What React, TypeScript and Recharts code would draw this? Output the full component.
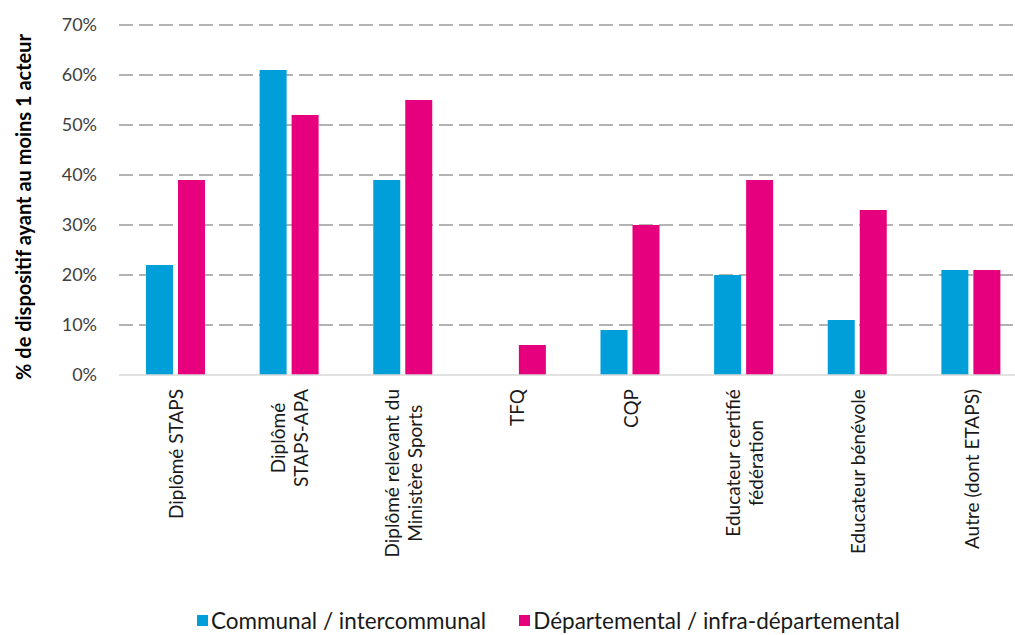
import { BarChart, Bar, XAxis, YAxis, CartesianGrid } from "recharts";

const CATEGORIES = [
  "Diplômé STAPS",
  "Diplômé\nSTAPS-APA",
  "Diplômé relevant du\nMinistère Sports",
  "TFQ",
  "CQP",
  "Educateur certifié\nfédération",
  "Educateur bénévole",
  "Autre (dont ETAPS)",
];
const COMMUNAL = [22, 61, 39, 0, 9, 20, 11, 21];
const DEPARTEMENTAL = [39, 52, 55, 6, 30, 39, 33, 21];
const Y_TICKS = [0, 10, 20, 30, 40, 50, 60, 70];

const SERIES = [
  { key: "communal", name: "Communal / intercommunal", color: "#009FDA" },
  { key: "departemental", name: "Départemental / infra-départemental", color: "#E6007E" },
];

const FONT = "Lato, 'Open Sans', sans-serif";
const X_FONT_SIZE = 19;

const data = CATEGORIES.map((name, i) => ({
  name,
  communal: COMMUNAL[i],
  departemental: DEPARTEMENTAL[i],
}));

let ctx: CanvasRenderingContext2D | null = null;
function textWidth(s: string, font: string) {
  if (!ctx) ctx = document.createElement("canvas").getContext("2d");
  if (!ctx) return s.length * 8;
  ctx.font = font;
  return ctx.measureText(s).width;
}

function XTick({ x, y, payload }: any) {
  const lines: string[] = String(payload.value).split("\n");
  const font = `${X_FONT_SIZE}px ${FONT}`;
  const maxW = Math.max(...lines.map((l) => textWidth(l, font)));
  const lh = 23;
  return (
    <g transform={`translate(${x},${y + 6}) rotate(-90)`}>
      {lines.map((l, i) => (
        <text
          key={i}
          x={-maxW / 2}
          y={(i - (lines.length - 1) / 2) * lh}
          textAnchor="middle"
          dominantBaseline="central"
          fontFamily={FONT}
          fontSize={X_FONT_SIZE}
          fill="#1a1a1a"
        >
          {l}
        </text>
      ))}
    </g>
  );
}

function YTitle({ viewBox }: any) {
  const cx = viewBox.x + 23;
  const cy = viewBox.y + viewBox.height / 2 + 7;
  return (
    <text
      x={cx}
      y={cy}
      transform={`rotate(-90, ${cx}, ${cy})`}
      textAnchor="middle"
      dominantBaseline="central"
      fontFamily={FONT}
      fontWeight="bold"
      fontSize={20}
      fill="#000"
    >
      % de dispositif ayant au moins 1 acteur
    </text>
  );
}

function LegendContent() {
  return (
    <div style={{ display: "flex", alignItems: "center", fontFamily: FONT, fontSize: 22.5, color: "#1a1a1a" }}>
      {SERIES.map((s, i) => (
        <div key={s.key} style={{ display: "flex", alignItems: "center", marginRight: i === 0 ? 33 : 0 }}>
          <div style={{ width: 11, height: 11, background: s.color, marginRight: 3 }} />
          <span>{s.name}</span>
        </div>
      ))}
    </div>
  );
}

export default function App() {
  return (
    <div
      style={{
        position: "absolute",
        left: 0,
        top: 0,
        width: 1015,
        height: 635,
        overflow: "hidden",
        background: "#fff",
      }}
    >
      <BarChart
        width={1040}
        height={635}
        data={data}
        margin={{ top: 25, right: 12, bottom: 10, left: 0 }}
        barSize={27}
        barGap={5}
      >
        <CartesianGrid
          vertical={false}
          horizontalValues={Y_TICKS.filter((v) => v > 0)}
          stroke="#b3b3b3"
          strokeWidth={2}
          strokeDasharray="14 6"
        />
        <XAxis
          dataKey="name"
          interval={0}
          tickLine={false}
          axisLine={{ stroke: "#d9d9d9", strokeWidth: 1.5 }}
          tick={<XTick />}
          height={250}
        />
        <YAxis
          width={119}
          domain={[0, 70]}
          ticks={Y_TICKS}
          interval={0}
          tickFormatter={(v) => `${v}%`}
          axisLine={false}
          tickLine={false}
          tickMargin={16}
          tick={{ fill: "#404040", fontSize: 18, fontFamily: FONT }}
          label={<YTitle />}
        />
        {SERIES.map((s) => (
          <Bar key={s.key} dataKey={s.key} name={s.name} fill={s.color} isAnimationActive={false} />
        ))}
      </BarChart>
      <div style={{ position: "absolute", left: 197, top: 607 }}>
        <LegendContent />
      </div>
    </div>
  );
}
